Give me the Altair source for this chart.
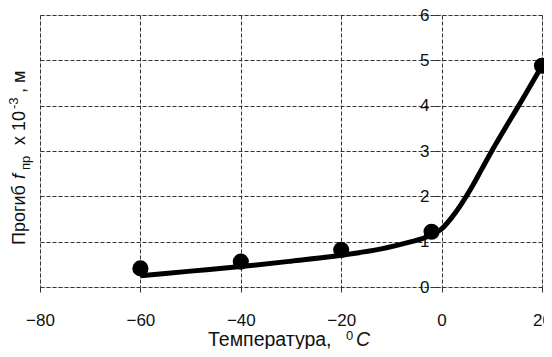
import altair as alt
import pandas as pd

# measured points
pt_temp = [-60, -40, -20, -2, 20]
pt_defl = [0.41, 0.56, 0.82, 1.22, 4.88]

# fitted curve
ln_temp = [-60, -50, -40, -30, -20, -12, -6, -4, -2, 0, 2, 4, 6, 8, 10, 12, 14, 16, 18, 20]
ln_defl = [0.25, 0.35, 0.45, 0.57, 0.70, 0.84, 1.0, 1.06, 1.15, 1.28, 1.53, 1.84, 2.2, 2.6, 3.0, 3.38, 3.75, 4.12, 4.5, 4.88]

x_ticks = [-80, -60, -40, -20, 0, 20]
y_ticks = [0, 1, 2, 3, 4, 5, 6]

pts = pd.DataFrame({"t": pt_temp, "f": pt_defl})
lns = pd.DataFrame({"t": ln_temp, "f": ln_defl})

W, H = 502, 272
FONT = "Liberation Sans"

xscale = alt.Scale(domain=[-80, 20], nice=False, zero=False)
yscale = alt.Scale(domain=[0, 6], nice=False, zero=False)

xax = alt.Axis(values=x_ticks, title=None, grid=True, gridDash=[4, 2], gridColor="#333",
               gridWidth=1, domain=False, tickSize=5, tickColor="#333", labelFlush=False,
               labelPadding=20, labelFontSize=17, labelFont=FONT, labelColor="#111")
yax = alt.Axis(values=y_ticks, title=None, grid=True, gridDash=[4, 2], gridColor="#333",
               gridWidth=1, domain=False, tickSize=6, tickColor="#333", offset=-400,
               labelPadding=5, labelFontSize=17, labelFont=FONT, labelColor="#111")

line = alt.Chart(lns).mark_line(color="black", strokeWidth=5, interpolate="monotone").encode(
    x=alt.X("t:Q", scale=xscale, axis=xax),
    y=alt.Y("f:Q", scale=yscale, axis=yax),
)
points = alt.Chart(pts).mark_point(filled=True, color="black", size=260, opacity=1).encode(
    x=alt.X("t:Q", scale=xscale),
    y=alt.Y("f:Q", scale=yscale),
)

def txt(s, x, y, size=18, angle=0, style="normal", align="left"):
    return alt.Chart(pd.DataFrame({"s": [s]})).mark_text(
        font=FONT, fontSize=size, fontStyle=style, angle=angle, align=align,
        baseline="alphabetic", color="#111"
    ).encode(text="s:N", x=alt.value(x), y=alt.value(y))

# y title pieces (rotated)
ytitle = [
    txt("Прогиб", -15, 230, angle=270),
    txt("f", -15, 164, angle=270, style="italic"),
    txt("пр", -10, 155, size=13, angle=270),
    txt("x 10", -15, 130, angle=270),
    txt("-3", -22, 94, size=13, angle=270),
    txt(", м", -15, 78, angle=270),
]
# x title pieces
xtitle = [
    txt("Температура,", 168, 331, size=19.5),
    txt("0", 306, 325, size=13),
    txt("C", 316, 331, size=19.5, style="italic"),
]

chart = alt.layer(line, points, *ytitle, *xtitle).properties(
    width=W, height=H,
    padding={"left": 32, "top": 7, "right": 2, "bottom": 62},
    autosize=alt.AutoSizeParams(type="none"),
).configure_view(stroke="#333", strokeDash=[4, 2], strokeWidth=1).configure(background="white")

chart.save("out.html", embed_options={"renderer": "svg", "actions": False})
